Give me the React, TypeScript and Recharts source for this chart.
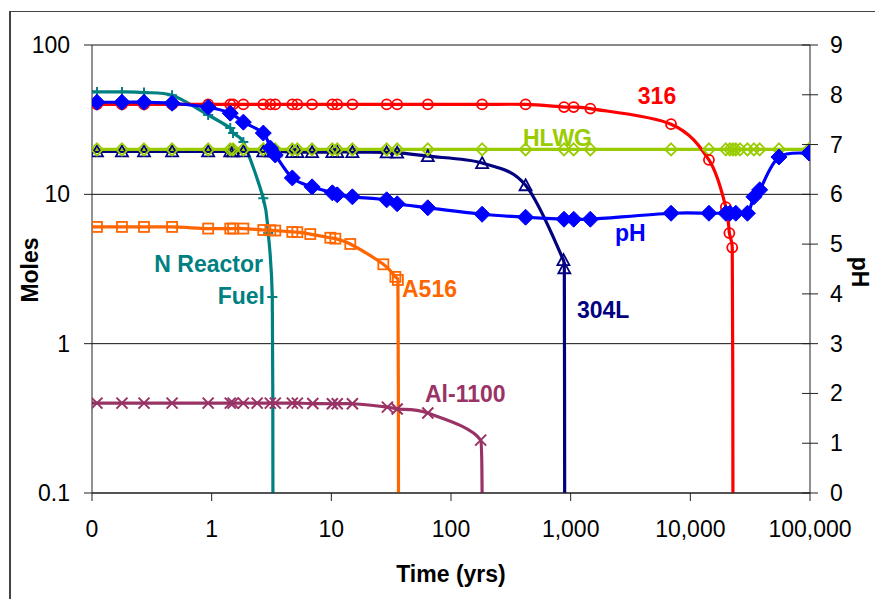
import React from "react";
import { ComposedChart, Line, XAxis, YAxis, CartesianGrid } from "recharts";

// [time (yrs), moles]. The first point sits on the left axis,
// the last one of each material is where its curve falls off the bottom.
const fuelPts = [
  [0.1, 48.5], [0.11, 48.5], [0.178, 48.5], [0.272, 48], [0.467, 46], [0.935, 34],
  [1.43, 27.8], [1.51, 25.7], [1.84, 22.4], [2.7, 9.4], [2.97, 5.5], [3.21, 2.05], [3.25, 0.1],
];
const a516Pts = [
  [0.1, 6.05], [0.11, 6.05], [0.178, 6.05], [0.272, 6.05], [0.467, 6.05], [0.935, 5.9],
  [1.43, 5.9], [1.51, 5.9], [1.84, 5.9], [2.7, 5.77], [3.09, 5.75], [3.4, 5.72], [4.72, 5.6],
  [5.2, 5.58], [6.67, 5.42], [9.8, 5.12], [10.8, 5.05], [14.4, 4.65], [27.2, 3.4], [34.3, 2.8],
  [36, 2.67], [36.4, 0.1],
];
const al1100Pts = [
  [0.1, 0.4], [0.11, 0.4], [0.178, 0.4], [0.272, 0.4], [0.467, 0.4], [0.935, 0.4],
  [1.43, 0.4], [1.51, 0.4], [1.84, 0.4], [2.4, 0.4], [3.09, 0.4], [3.4, 0.4], [4.72, 0.4],
  [5.2, 0.4], [7, 0.397], [10.2, 0.396], [11.2, 0.396], [15, 0.396], [29.4, 0.376],
  [35.5, 0.365], [64, 0.343], [177, 0.226], [182, 0.1],
];
const s304Pts = [
  [0.1, 19.4], [0.11, 19.4], [0.178, 19.4], [0.272, 19.4], [0.467, 19.4], [0.935, 19.4],
  [1.43, 19.4], [1.51, 19.4], [1.84, 19.4], [2.7, 19.4], [3.09, 19.4], [3.4, 19.4],
  [4.72, 19.2], [5.2, 19.2], [6.9, 19.2], [10.2, 19.2], [11.2, 19.2], [15, 19.2], [29, 19.1],
  [35.5, 19], [64, 18], [182, 16.2], [420, 11.5], [870, 3.63], [885, 3.2], [891, 0.1],
];
const s316Pts = [
  [0.1, 40], [0.11, 40], [0.178, 40], [0.272, 40], [0.467, 40], [0.935, 40], [1.43, 40],
  [1.51, 40], [1.84, 40], [2.7, 40], [3.09, 40], [3.4, 40], [4.72, 40], [5.2, 40], [6.9, 40],
  [10.2, 40], [11.2, 40], [15, 40], [29, 40], [35.5, 40], [64, 40], [182, 40], [420, 40],
  [880, 38.4], [1060, 38.4], [1460, 37.5], [6900, 29.5], [14300, 17], [19800, 8.2],
  [21200, 5.5], [22400, 4.4], [22700, 0.1],
];
const hlwgPts = [
  [0.1, 20], [0.11, 20], [0.178, 20], [0.272, 20], [0.467, 20], [0.935, 20], [1.43, 20],
  [1.51, 20], [1.84, 20], [2.7, 20], [3.09, 20], [3.4, 20], [4.72, 20], [5.2, 20], [6.9, 20],
  [10.2, 20], [11.2, 20], [15, 20], [29, 20], [35.5, 20], [64, 20], [182, 20], [420, 20],
  [880, 20], [1060, 20], [1460, 20], [6900, 20], [14300, 20], [19800, 20], [21400, 20],
  [22700, 20], [24000, 20], [26000, 20], [30000, 20], [34000, 20], [38000, 20], [55000, 20],
  [98000, 20],
];
// [time (yrs), pH] on the right axis
const phPts = [
  [0.1, 7.85], [0.11, 7.85], [0.178, 7.85], [0.272, 7.85], [0.467, 7.83], [0.935, 7.75],
  [1.43, 7.63], [1.84, 7.45], [2.7, 7.23], [3.09, 6.93], [3.4, 6.79], [4.72, 6.33],
  [6.9, 6.15], [10.2, 6.03], [11.2, 5.99], [15, 5.95], [29, 5.89], [35.5, 5.81], [64, 5.73],
  [182, 5.6], [420, 5.54], [880, 5.5], [1060, 5.5], [1460, 5.5], [6900, 5.62], [14300, 5.62],
  [19800, 5.62], [21400, 5.62], [24000, 5.62], [30000, 5.62], [34000, 5.95], [38000, 6.09],
  [55000, 6.75], [98000, 6.83],
];

const timeTicks = [0.1, 1, 10, 100, 1000, 10000, 100000];
const moleTicks = [0.1, 1, 10, 100];
const phTicks = [0, 1, 2, 3, 4, 5, 6, 7, 8, 9];

const FONT = "'Liberation Sans', Arial, Helvetica, sans-serif";
const AX = "#222";
const TEAL = "#008080";
const ORANGE = "#FF6600";
const PURPLE = "#993366";
const NAVY = "#000080";
const RED = "#FF0000";
const GREEN = "#99CC00";
const BLUE = "#0000FF";

const toRows = (pts: number[][]) => pts.map(([t, v]) => ({ t, v }));

// handle offset limited to half the segment length, and kept inside the segment in x,
// so short segments next to the drop-offs don't spike
const handle = (dx: number, dy: number, p1: number[], p2: number[]) => {
  const chord = Math.hypot(p2[0] - p1[0], p2[1] - p1[1]);
  const len = Math.hypot(dx, dy);
  let k = len > chord * 0.5 && len > 0 ? (chord * 0.5) / len : 1;
  const span = Math.abs(p2[0] - p1[0]);
  if (Math.abs(dx * k) > span && dx !== 0) k = span / Math.abs(dx);
  return [dx * k, dy * k];
};

// Excel style smoothing: bezier with control points at 1/6 of neighbour spans
const excelSmooth = (context: any) => {
  let pts: number[][] = [];
  return {
    areaStart() {},
    areaEnd() {},
    lineStart() {
      pts = [];
    },
    point(x: number, y: number) {
      pts.push([+x, +y]);
    },
    lineEnd() {
      if (!pts.length) return;
      context.moveTo(pts[0][0], pts[0][1]);
      for (let i = 0; i < pts.length - 1; i++) {
        const p0 = pts[i - 1] || pts[i];
        const p1 = pts[i];
        const p2 = pts[i + 1];
        const p3 = pts[i + 2] || p2;
        const [ax, ay] = handle((p2[0] - p0[0]) / 6, (p2[1] - p0[1]) / 6, p1, p2);
        const [bx, by] = handle((p3[0] - p1[0]) / 6, (p3[1] - p1[1]) / 6, p1, p2);
        context.bezierCurveTo(p1[0] + ax, p1[1] + ay, p2[0] - bx, p2[1] - by, p2[0], p2[1]);
      }
    },
  };
};

type Shape = "plus" | "square" | "cross" | "triangle" | "circle" | "diamond" | "solidDiamond";

const mkDot = (shape: Shape, color: string, n: number, drops: boolean) => (props: any) => {
  const { cx, cy, index } = props;
  const k = `d-${index}`;
  if (index === 0 || (drops && index === n - 1) || cx == null || cy == null) return <g key={k} />;
  const sw = 1.8;
  switch (shape) {
    case "plus":
      return (
        <path key={k} d={`M${cx - 5},${cy}H${cx + 5}M${cx},${cy - 5}V${cy + 5}`} stroke={color} strokeWidth={2} />
      );
    case "cross":
      return (
        <path
          key={k}
          d={`M${cx - 5.5},${cy - 5.5}L${cx + 5.5},${cy + 5.5}M${cx - 5.5},${cy + 5.5}L${cx + 5.5},${cy - 5.5}`}
          stroke={color}
          strokeWidth={2}
        />
      );
    case "square":
      return <rect key={k} x={cx - 5} y={cy - 5} width={10} height={10} fill="none" stroke={color} strokeWidth={sw} />;
    case "triangle":
      return (
        <polygon key={k} points={`${cx},${cy - 6} ${cx + 6},${cy + 5} ${cx - 6},${cy + 5}`} fill="none" stroke={color} strokeWidth={sw} />
      );
    case "circle":
      return <circle key={k} cx={cx} cy={cy} r={5} fill="none" stroke={color} strokeWidth={sw} />;
    case "diamond":
      return (
        <polygon key={k} points={`${cx},${cy - 6} ${cx + 6},${cy} ${cx},${cy + 6} ${cx - 6},${cy}`} fill="none" stroke={color} strokeWidth={sw} />
      );
    default:
      return (
        <polygon key={k} points={`${cx},${cy - 8} ${cx + 8},${cy} ${cx},${cy + 8} ${cx - 8},${cy}`} fill={color} stroke={color} strokeWidth={1} />
      );
  }
};

const fmtTime = (v: number) => (v < 1 ? "0" : v.toLocaleString("en-US"));
const fmtMol = (v: number) => (v < 1 ? String(v) : String(Math.round(v)));

function BottomTick({ x, y, payload }: any) {
  return (
    <g>
      <line x1={x} x2={x} y1={y} y2={y + 8} stroke={AX} />
      <text x={x} y={y + 44} textAnchor="middle" fontSize={23} fontFamily={FONT} fill="#000">
        {fmtTime(payload.value)}
      </text>
    </g>
  );
}

function LeftTick({ x, y, payload }: any) {
  return (
    <g>
      <line x1={x - 8} x2={x} y1={y} y2={y} stroke={AX} />
      <text x={x - 22} y={y + 8} textAnchor="end" fontSize={23} fontFamily={FONT} fill="#000">
        {fmtMol(payload.value)}
      </text>
    </g>
  );
}

function RightTick({ x, y, payload }: any) {
  return (
    <g>
      <line x1={x - 8} x2={x + 8} y1={y} y2={y} stroke={AX} />
      <text x={x + 20} y={y + 8} textAnchor="start" fontSize={23} fontFamily={FONT} fill="#000">
        {payload.value}
      </text>
    </g>
  );
}

const series = [
  { name: "fuel", pts: fuelPts, color: TEAL, shape: "plus", drops: true, axis: "mol" },
  { name: "a516", pts: a516Pts, color: ORANGE, shape: "square", drops: true, axis: "mol" },
  { name: "al1100", pts: al1100Pts, color: PURPLE, shape: "cross", drops: true, axis: "mol" },
  { name: "s304", pts: s304Pts, color: NAVY, shape: "triangle", drops: true, axis: "mol" },
  { name: "hlwg", pts: hlwgPts, color: GREEN, shape: "diamond", drops: false, axis: "mol" },
  { name: "s316", pts: s316Pts, color: RED, shape: "circle", drops: true, axis: "mol" },
  { name: "ph", pts: phPts, color: BLUE, shape: "solidDiamond", drops: false, axis: "ph" },
] as const;

const labelStyle = { fontFamily: FONT, fontSize: 23, fontWeight: 700 } as const;

export default function App() {
  return (
    <div style={{ position: "fixed", left: 0, top: 0, width: 875, height: 599, background: "#fff", overflow: "hidden" }}>
      <div
        style={{
          position: "absolute",
          left: 9,
          top: 11,
          right: -5,
          bottom: -5,
          borderLeft: "2px solid #444",
          borderTop: "1.5px solid #444",
        }}
      />
      <div style={{ position: "absolute", left: 0, top: 0 }}>
        <ComposedChart width={875} height={599} margin={{ top: 45, right: 5, bottom: 46, left: 32 }}>
          <CartesianGrid horizontal vertical={false} yAxisId="mol" stroke="#111" strokeWidth={1} />
          <XAxis
            dataKey="t"
            type="number"
            scale="log"
            domain={[0.1, 100000]}
            ticks={timeTicks}
            interval={0}
            allowDataOverflow
            height={60}
            tickSize={0}
            tickMargin={0}
            tickLine={false}
            axisLine={{ stroke: AX }}
            tick={<BottomTick />}
          />
          <YAxis
            yAxisId="mol"
            type="number"
            scale="log"
            domain={[0.1, 100]}
            ticks={moleTicks}
            interval={0}
            allowDataOverflow
            width={60}
            tickSize={0}
            tickMargin={0}
            tickLine={false}
            axisLine={{ stroke: AX }}
            tick={<LeftTick />}
          />
          <YAxis
            yAxisId="ph"
            orientation="right"
            type="number"
            domain={[0, 9]}
            ticks={phTicks}
            interval={0}
            allowDataOverflow
            width={60}
            tickSize={0}
            tickMargin={0}
            tickLine={false}
            axisLine={{ stroke: AX }}
            tick={<RightTick />}
          />
          {series.map((s) => {
            const rows = toRows(s.pts as unknown as number[][]);
            return (
              <Line
                key={s.name}
                data={rows}
                dataKey="v"
                yAxisId={s.axis}
                type={excelSmooth as any}
                stroke={s.color}
                strokeWidth={3.2}
                dot={mkDot(s.shape as Shape, s.color, rows.length, s.drops)}
                activeDot={false}
                isAnimationActive={false}
              />
            );
          })}
        </ComposedChart>
      </div>
      <svg width={875} height={599} style={{ position: "absolute", left: 0, top: 0, pointerEvents: "none" }}>
        <text x={657} y={104} textAnchor="middle" fill={RED} {...labelStyle}>316</text>
        <text x={523} y={146} fill={GREEN} {...labelStyle}>HLWG</text>
        <text x={615} y={241} fill={BLUE} {...labelStyle}>pH</text>
        <text x={577} y={318} fill={NAVY} {...labelStyle}>304L</text>
        <text x={402} y={297} fill={ORANGE} {...labelStyle}>A516</text>
        <text x={263} y={272} textAnchor="end" fill={TEAL} {...labelStyle}>N Reactor</text>
        <text x={265} y={304} textAnchor="end" fill={TEAL} {...labelStyle}>Fuel</text>
        <text x={425} y={402} fill={PURPLE} {...labelStyle}>Al-1100</text>
        <text x={38} y={270} textAnchor="middle" transform="rotate(-90 38 270)" fill="#000" {...labelStyle}>
          Moles
        </text>
        <text x={852} y={272} textAnchor="middle" transform="rotate(90 852 272)" fill="#000" {...labelStyle}>
          pH
        </text>
        <text x={451} y={582} textAnchor="middle" fill="#000" {...labelStyle}>Time (yrs)</text>
      </svg>
    </div>
  );
}
